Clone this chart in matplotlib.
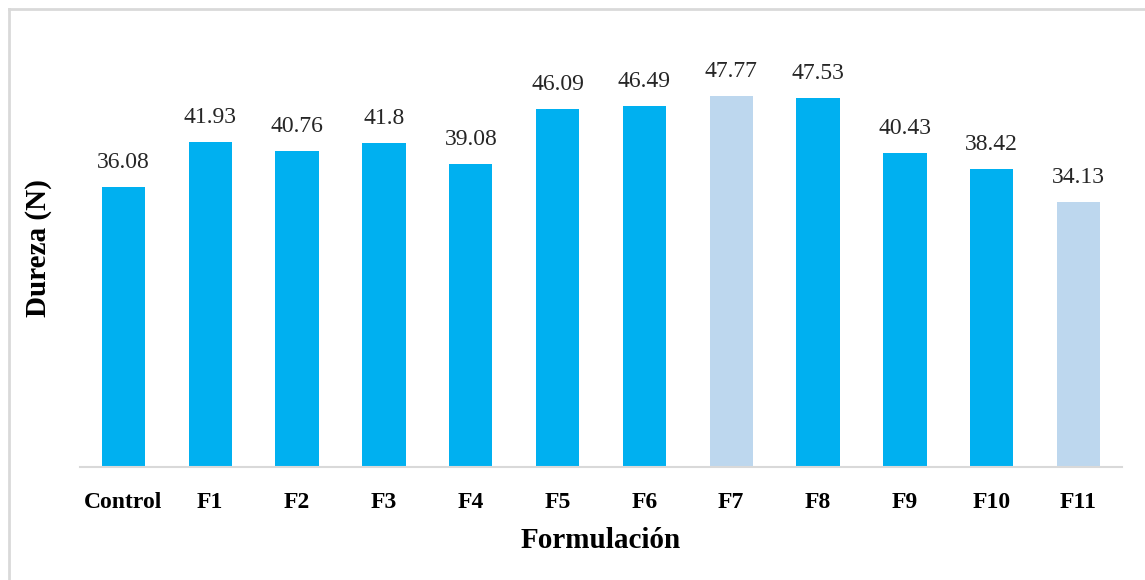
import matplotlib.pyplot as plt
from matplotlib.lines import Line2D

categories = ["Control", "F1", "F2", "F3", "F4", "F5", "F6", "F7", "F8", "F9", "F10", "F11"]
values = [36.08, 41.93, 40.76, 41.8, 39.08, 46.09, 46.49, 47.77, 47.53, 40.43, 38.42, 34.13]
labels = ["36.08", "41.93", "40.76", "41.8", "39.08", "46.09", "46.49", "47.77", "47.53", "40.43", "38.42", "34.13"]
highlight = ["F7", "F11"]

plt.rcParams['font.family'] = ['Liberation Serif', 'DejaVu Serif']

fig = plt.figure(figsize=(11.45, 5.8), dpi=100)
ax = fig.add_axes([80 / 1145, 1 - 467 / 580, 1042 / 1145, 437 / 580])

colors = ["#BDD7EE" if c in highlight else "#00B0F0" for c in categories]
x = range(len(categories))
bars = ax.bar(x, values, width=0.5, color=colors)

for b, lab in zip(bars, labels):
    ax.annotate(lab, (b.get_x() + b.get_width() / 2, b.get_height()),
                xytext=(0, 10), textcoords="offset points",
                ha="center", va="bottom", fontsize=17, color="#262626")

ax.set_xlim(-0.5, len(categories) - 0.5)
ax.set_ylim(0, 56.3)
ax.set_xticks(list(x))
ax.set_xticklabels(categories, fontsize=17, fontweight="bold")
ax.tick_params(axis="x", length=0, pad=18)
ax.set_yticks([])
for s in ["top", "right", "left"]:
    ax.spines[s].set_visible(False)
ax.spines["bottom"].set_color("#D9D9D9")
ax.spines["bottom"].set_linewidth(1.5)

ax.set_xlabel("Formulación", fontsize=21, fontweight="bold", labelpad=10)
ax.set_ylabel("Dureza (N)", fontsize=21, fontweight="bold", labelpad=20)

# light frame around the chart (only top and left visible)
fig.add_artist(Line2D([8.5 / 1145, 1], [1 - 8.5 / 580, 1 - 8.5 / 580], color="#D9D9D9", lw=2))
fig.add_artist(Line2D([8.5 / 1145, 8.5 / 1145], [0, 1 - 8.5 / 580], color="#D9D9D9", lw=2))

fig.savefig("out.png", dpi=100)
plt.close()
